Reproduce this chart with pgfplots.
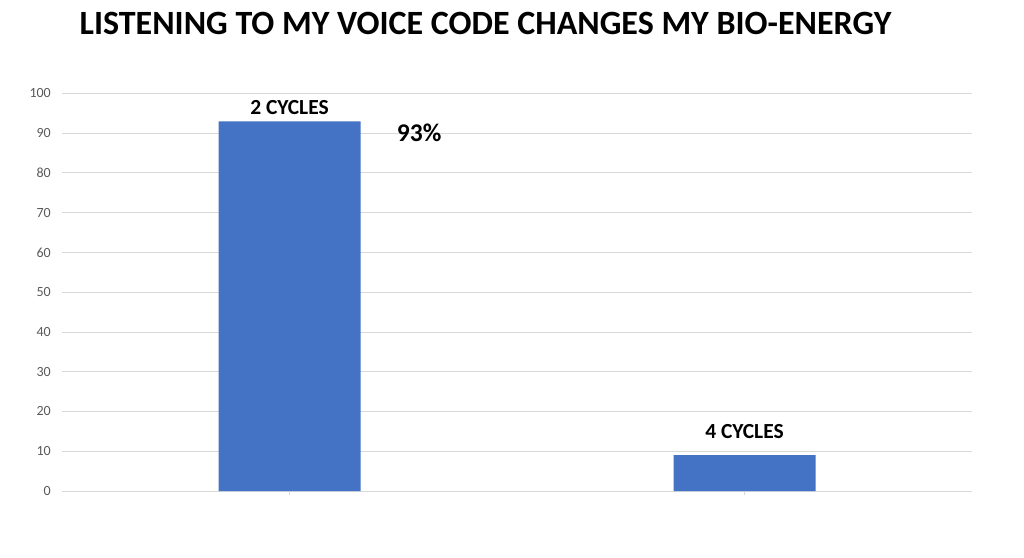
\documentclass[border=0pt]{standalone}
\usepackage{pgfplots}
\pgfplotsset{compat=1.18}
\usepackage{fontspec}
\setmainfont{Carlito}
\definecolor{barblue}{RGB}{68,114,196}
\definecolor{gridgray}{RGB}{217,217,217}
\definecolor{ticktext}{RGB}{89,89,89}
\begin{document}
\begin{tikzpicture}[x=1pt,y=1pt]
\path[use as bounding box] (0,0) rectangle (1024,557);
\node[anchor=base, font=\fontsize{34}{38}\selectfont\bfseries] at (485.5,522) {LISTENING TO MY VOICE CODE CHANGES MY BIO-ENERGY};
\begin{axis}[
  at={(62pt,66pt)}, anchor=south west,
  scale only axis, width=910pt, height=397.5pt,
  xmin=-0.5, xmax=1.5, ymin=0, ymax=100,
  ytick={0,10,...,100},
  xtick={0,1}, xticklabels={},
  axis x line*=bottom, axis y line*=left,
  x axis line style={draw=gridgray, line width=1pt, -},
  y axis line style={draw=none},
  xtick style={draw=gridgray, line width=1pt},
  major tick length=4pt,
  tick align=outside,
  ymajorgrids, grid style={draw=gridgray, line width=1pt},
  yticklabel style={font=\fontsize{14}{16}\selectfont, text=ticktext, inner sep=0pt, anchor=east, xshift=-7pt},
  /pgf/number format/assume math mode=true,
  ytick style={draw=none},
  clip=false,
]
\addplot[ybar, bar width=142pt, fill=barblue, draw=none, area legend] coordinates {(0,93) (1,9)};
\node[anchor=base, font=\fontsize{21.5}{25}\selectfont\bfseries] at (axis cs:0,94.6) {2 CYCLES};
\node[anchor=base, font=\fontsize{21.5}{25}\selectfont\bfseries] at (axis cs:1,13.1) {4 CYCLES};
\node[anchor=base, font=\fontsize{25.5}{30}\selectfont\bfseries] at (axis cs:0.285,87.9) {93\%};
\end{axis}
\end{tikzpicture}
\end{document}
